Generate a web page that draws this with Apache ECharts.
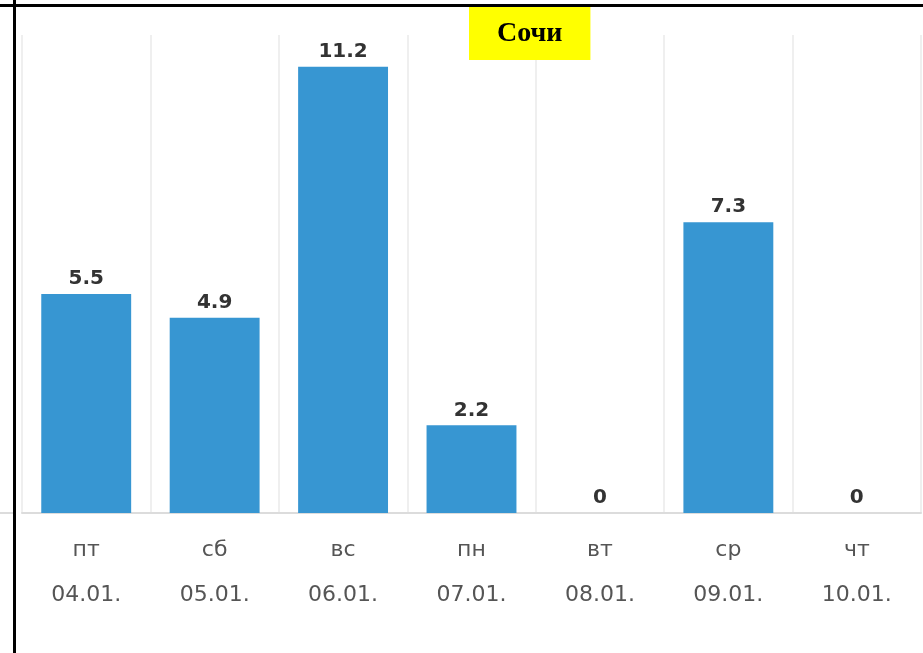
<!DOCTYPE html>
<html>
<head>
<meta charset="utf-8">
<script src="https://cdn.jsdelivr.net/npm/echarts@6/dist/echarts.min.js"></script>
<style>
  html, body { margin: 0; padding: 0; background: #fff; }
  #chart { width: 923px; height: 653px; }
</style>
</head>
<body>
<div id="chart"></div>
<script>
// дни недели и даты
var days = ["пт", "сб", "вс", "пн", "вт", "ср", "чт"];
var dates = ["04.01.", "05.01.", "06.01.", "07.01.", "08.01.", "09.01.", "10.01."];
// осадки, мм
var values = [5.5, 4.9, 11.2, 2.2, 0, 7.3, 0];

var categories = days.map(function (d, i) { return d + "\n" + dates[i]; });

var chart = echarts.init(document.getElementById("chart"));
chart.setOption({
  animation: false,
  title: {
    text: "Сочи",
    left: 469,
    top: 7,
    padding: [11, 28],
    backgroundColor: "#ffff00",
    textStyle: {
      fontFamily: "Liberation Serif",
      fontWeight: "bold",
      fontSize: 28,
      lineHeight: 31,
      color: "#000"
    }
  },
  grid: { left: 22, right: 2, top: 35, bottom: 140 },
  xAxis: {
    type: "category",
    data: categories,
    axisLine: { lineStyle: { color: "#dcdcdc", width: 2 } },
    axisTick: { show: false },
    splitLine: { show: true, lineStyle: { color: "#efefef", width: 2 } },
    axisLabel: {
      margin: 15,
      color: "#555",
      fontFamily: "DejaVu Sans",
      fontSize: 22,
      lineHeight: 45
    }
  },
  yAxis: {
    type: "value",
    min: 0,
    max: 12,
    show: false
  },
  series: [{
    type: "bar",
    data: values,
    barWidth: "70%",
    itemStyle: { color: "#3796d2" },
    label: {
      show: true,
      position: "top",
      distance: 5,
      color: "#333",
      fontFamily: "DejaVu Sans",
      fontWeight: "bold",
      fontSize: 20
    }
  }],
  graphic: [
    // рамка
    { type: "rect", left: 0, top: 4, shape: { width: 923, height: 3 }, style: { fill: "#000" } },
    { type: "rect", left: 13, top: 0, shape: { width: 3, height: 653 }, style: { fill: "#000" } },
    { type: "rect", left: 0, top: 512, shape: { width: 13, height: 2 }, style: { fill: "#dcdcdc" } }
  ]
});
</script>
</body>
</html>
